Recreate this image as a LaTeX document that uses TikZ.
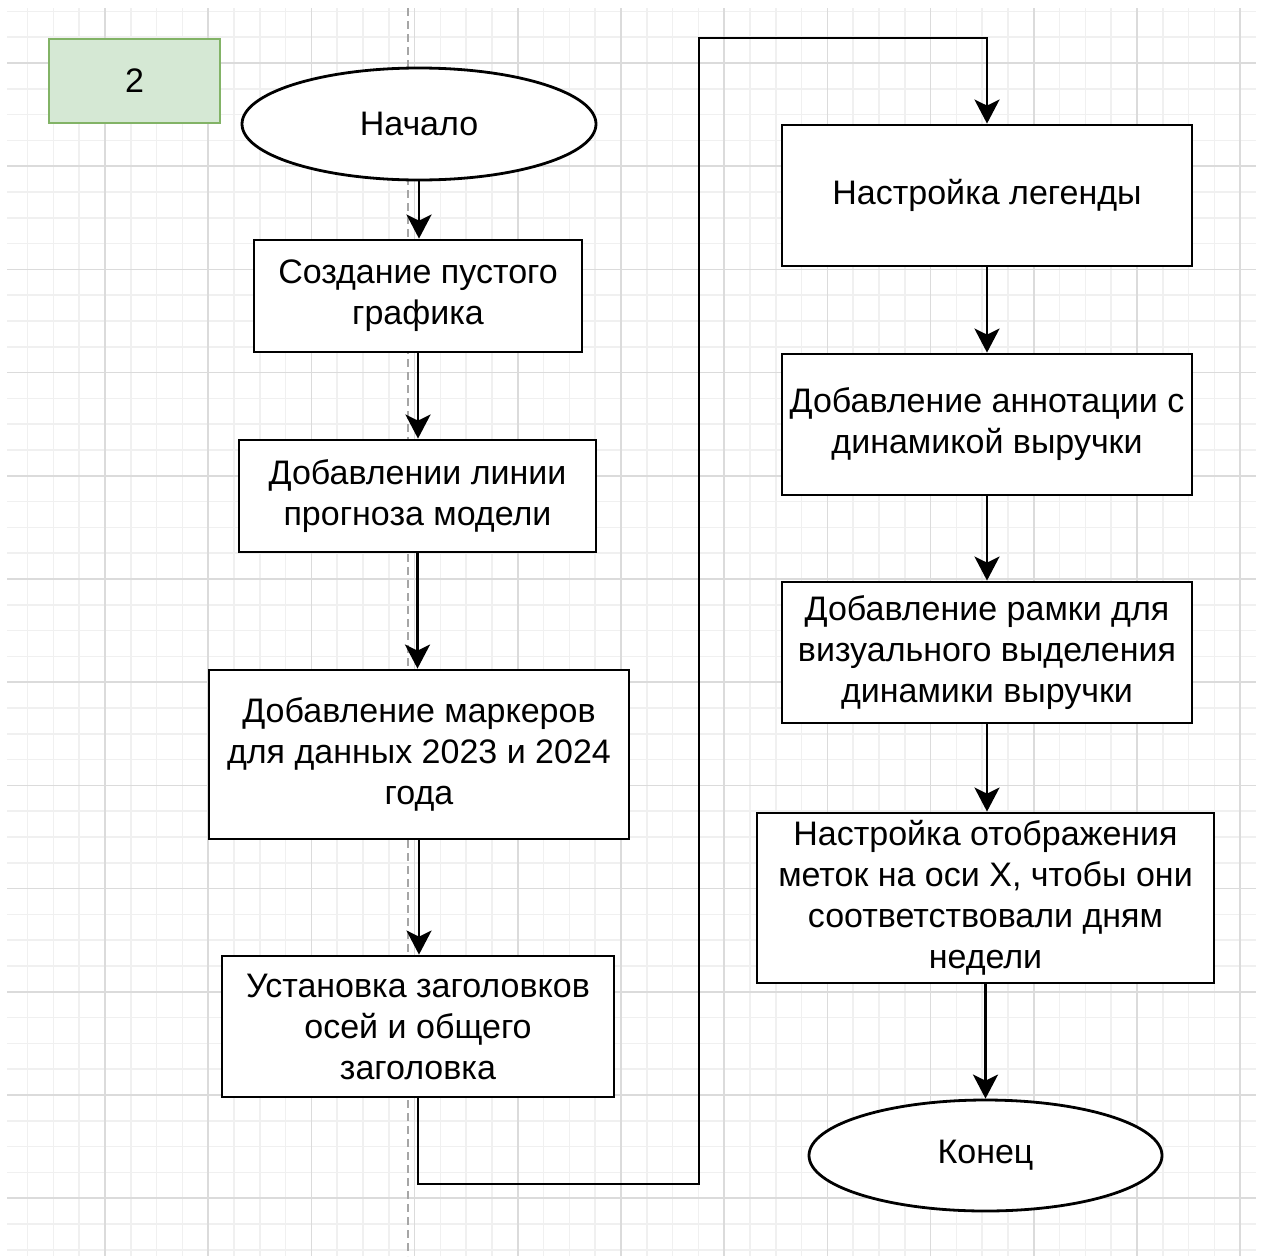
\documentclass[tikz,border=0pt]{standalone}
\usepackage{fontspec}
\setmainfont{Liberation Sans}
\usetikzlibrary{arrows.meta,shapes.geometric}
\definecolor{tagfill}{HTML}{D5E8D4}
\definecolor{tagline}{HTML}{82B366}

\begin{document}
\begin{tikzpicture}[x=1pt, y=-1pt,
  stepbox/.style={draw=black, line width=2.8pt, fill=white, inner sep=0pt,
    align=center, font=\fontsize{34}{41}\selectfont},
  endblob/.style={ellipse, draw=black, line width=2.8pt, fill=white,
    inner sep=0pt, font=\fontsize{34}{41}\selectfont},
  flowarrow/.style={-{Stealth[length=24pt, width=25pt, inset=6pt]}, line width=2.8pt},
  minorgrid/.style={draw=black!6, line width=1.5pt},
  majorgrid/.style={draw=black!14, line width=1.5pt},
  guide/.style={draw=black!35, line width=1.5pt, dash pattern=on 8pt off 5pt}
]
\useasboundingbox[fill=white] (0,0) rectangle (1261,1256);
% background grid
\begin{scope}
  \clip (7,8) rectangle (1256,1256);
  \foreach \gx in {1.8,27.6,...,1260} \draw[minorgrid] (\gx,8) -- (\gx,1256);
  \foreach \gy in {11.4,37.2,...,1260} \draw[minorgrid] (7,\gy) -- (1256,\gy);
  \foreach \gx in {105,208.2,...,1260} \draw[majorgrid] (\gx,8) -- (\gx,1256);
  \foreach \gy in {63,166.2,...,1260} \draw[majorgrid] (7,\gy) -- (1256,\gy);
  \draw[guide] (408,8) -- (408,1256);
\end{scope}

\node[stepbox, draw=tagline, fill=tagfill, minimum width=171, minimum height=84] (tag) at (134.5,81) {2};

% left column
\node[endblob, minimum width=354, minimum height=112] (start) at (419,124) {Начало};
\node[stepbox, minimum width=328, minimum height=112] (emptyplot) at (418,296) {Создание пустого\\графика};
\node[stepbox, minimum width=357, minimum height=112] (forecast) at (417.5,496) {Добавлении линии\\прогноза модели};
\node[stepbox, minimum width=420, minimum height=169] (markers) at (419,754.5) {Добавление маркеров\\для данных 2023 и 2024\\года};
\node[stepbox, minimum width=392, minimum height=141] (axestitles) at (418,1026.5) {Установка заголовков\\осей и общего\\заголовка};

% right column
\node[stepbox, minimum width=410, minimum height=141] (legend) at (987,195.5) {Настройка легенды};
\node[stepbox, minimum width=410, minimum height=141] (annotation) at (987,424.5) {Добавление аннотации с\\динамикой выручки};
\node[stepbox, minimum width=410, minimum height=141] (frame) at (987,652.5) {Добавление рамки для\\визуального выделения\\динамики выручки};
\node[stepbox, minimum width=457, minimum height=170] (xticks) at (985.5,898) {Настройка отображения\\меток на оси X, чтобы они\\соответствовали дням\\недели};
\node[endblob, minimum width=353, minimum height=111] (finish) at (985.5,1155.5) {Конец};

\coordinate (turnlow) at (699,1184);
\coordinate (turnhigh) at (699,38);

\draw[flowarrow] (start) -- (start |- emptyplot.north);
\draw[flowarrow] (emptyplot) -- (emptyplot |- forecast.north);
\draw[flowarrow] (forecast) -- (forecast |- markers.north);
\draw[flowarrow] (markers) -- (markers |- axestitles.north);
\draw[flowarrow] (axestitles.south) |- (turnlow) -- (turnhigh) -| (legend.north);
\draw[flowarrow] (legend) -- (annotation);
\draw[flowarrow] (annotation) -- (frame);
\draw[flowarrow] (frame) -- (frame |- xticks.north);
\draw[flowarrow] (xticks) -- (finish);
\end{tikzpicture}
\end{document}
